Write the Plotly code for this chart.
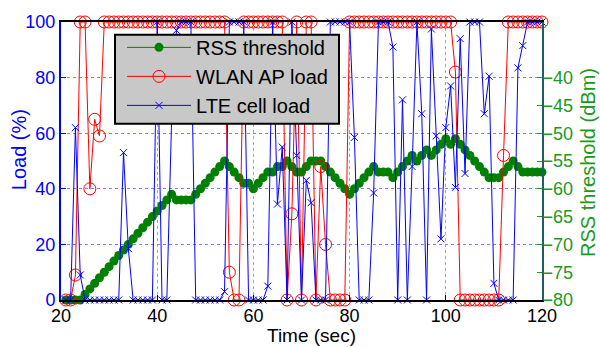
import plotly.graph_objects as go

# Simulation time (sec)
time = list(range(21, 121))

# RSS threshold (dBm)
rss_threshold = [
    -80, -80, -80, -80, -79, -78, -77, -76, -75, -74,
    -73, -72, -71, -70, -69, -68, -67, -66, -65, -64,
    -63, -62, -61, -62, -62, -62, -62, -61, -60, -59,
    -58, -57, -56, -55, -56, -57, -58, -59, -59, -60,
    -59, -58, -57, -57, -56, -56, -55, -56, -57, -57,
    -56, -55, -55, -55, -56, -57, -58, -59, -60, -61,
    -60, -59, -58, -57, -56, -57, -57, -57, -58, -57,
    -56, -55, -54, -55, -54, -53, -54, -53, -52, -51,
    -52, -51, -52, -53, -54, -55, -56, -57, -58, -58,
    -58, -57, -56, -55, -56, -57, -57, -57, -57, -57,
]

# WLAN AP load (%)
wlan_load = (
    [0, 0, 9, 100, 100, 40, 65, 59]
    + [100] * 26
    + [10, 0, 0]
    + [100] * 9
    + [0, 31, 100, 0, 100, 100, 0, 48, 20, 0, 0, 0, 0]
    + [100] * 22
    + [82]
    + [0] * 9
    + [52]
    + [100] * 8
)

# LTE cell load (%)
lte_load = (
    [0, 0, 62, 9]
    + [0] * 8
    + [53, 18.5]
    + [0] * 5
    + [100, 0, 0, 65, 97, 100, 100, 100]
    + [0] * 6
    + [3]
    + [100] * 4
    + [0] * 4
    + [5, 100, 34.5, 55, 0, 100, 52, 0, 43, 35]
    + [0] * 3
    + [100] * 5
    + [58.5, 0, 0, 0, 38.5]
    + [100, 100, 100, 91, 0, 72, 0, 48, 100, 67, 0, 97.5, 59, 22, 62,
       77, 40.5, 94, 45.5, 100, 100, 100, 67, 80.5, 6]
    + [0] * 4
    + [83.5, 91.5]
    + [100] * 4
)

x_ticks = [20, 40, 60, 80, 100, 120]
load_ticks = [0, 20, 40, 60, 80, 100]
rss_ticks = [-80, -75, -70, -65, -60, -55, -50, -45, -40]

GREEN = "#008000"
GREEN_TXT = "#1c9a1c"
BLUE = "#0000ff"
RED = "#ff0000"
FONT = "Liberation Sans, Arial, sans-serif"

W, H = 600, 347
L, R, T, B = 61, 58, 16, 47


def px(xp, yp):
    """Pixel position -> paper coordinates."""
    return (xp - L) / (W - L - R), (H - B - yp) / (H - T - B)


fig = go.Figure()

fig.add_trace(go.Scatter(
    x=time, y=rss_threshold, name="RSS threshold", yaxis="y",
    mode="lines+markers", cliponaxis=False,
    line=dict(color=GREEN, width=1),
    marker=dict(color=GREEN, size=9, symbol="circle"),
))
fig.add_trace(go.Scatter(
    x=time, y=wlan_load, name="WLAN AP load", yaxis="y2",
    mode="lines+markers", cliponaxis=False,
    line=dict(color=RED, width=1),
    marker=dict(color=RED, size=12, symbol="circle-open",
                line=dict(color=RED, width=1)),
))
fig.add_trace(go.Scatter(
    x=time, y=lte_load, name="LTE cell load", yaxis="y2",
    mode="lines+markers", cliponaxis=False,
    line=dict(color=BLUE, width=1),
    marker=dict(color=BLUE, size=7, symbol="x-thin-open",
                line=dict(color=BLUE, width=1)),
))

ann = []
ax_, ay_ = px(19, 147)
ann.append(dict(text="Load (%)", x=ax_, y=ay_, xref="paper", yref="paper",
                textangle=-90, showarrow=False, xanchor="center", yanchor="middle",
                font=dict(size=20, color=BLUE, family=FONT)))
ax_, ay_ = px(588, 160)
ann.append(dict(text="RSS threshold (dBm)", x=ax_, y=ay_, xref="paper", yref="paper",
                textangle=-90, showarrow=False, xanchor="center", yanchor="middle",
                font=dict(size=20, color=GREEN_TXT, family=FONT)))
ax_, ay_ = px(311, 336.4)
ann.append(dict(text="Time (sec)", x=ax_, y=ay_, xref="paper", yref="paper",
                showarrow=False, xanchor="center", yanchor="middle", borderpad=0,
                font=dict(size=19, color="black", family=FONT)))

# legend frame
bx0, by0 = px(115, 29)
bx1, by1 = px(339, 120)
shapes = [dict(type="rect", xref="paper", yref="paper", x0=bx0, y0=by1,
               x1=bx1, y1=by0, fillcolor="#c8c8c8",
               line=dict(color="black", width=2), layer="above")]

lx, ly = px(122, 22)

fig.update_layout(
    width=W, height=H,
    margin=dict(l=L, r=R, t=T, b=B, pad=0),
    paper_bgcolor="white", plot_bgcolor="white",
    font=dict(family=FONT, size=18, color="black"),
    annotations=ann,
    shapes=shapes,
    xaxis=dict(
        range=[20, 120], tickvals=x_ticks, ticks="inside", ticklen=5,
        tickcolor="black", showline=True, linecolor="black", linewidth=1.5,
        mirror=True, showgrid=True, gridcolor="#a8a8a8", griddash="dot",
        gridwidth=1, zeroline=False, tickfont=dict(size=18, color="black"),
        ticklabelstandoff=-1,
    ),
    yaxis=dict(
        range=[-80, -30], tickvals=rss_ticks, side="right", ticks="inside",
        ticklen=5, tickcolor=GREEN_TXT, showline=True, linecolor="#1f5f5f",
        linewidth=2, showgrid=False, zeroline=False,
        tickfont=dict(size=18, color=GREEN_TXT), ticklabelstandoff=-5,
    ),
    yaxis2=dict(
        range=[0, 100], tickvals=load_ticks, overlaying="y", side="left",
        ticks="inside", ticklen=5, tickcolor=BLUE, showline=True,
        linecolor=BLUE, linewidth=2, showgrid=True, gridcolor="#7f7fff",
        griddash="dot", gridwidth=1, zeroline=False,
        tickfont=dict(size=18, color=BLUE),
    ),
    legend=dict(
        x=lx, y=ly, xanchor="left", yanchor="top",
        bgcolor="rgba(0,0,0,0)", borderwidth=0,
        font=dict(size=20, color="black", family=FONT),
        itemwidth=64, tracegroupgap=0,
    ),
    showlegend=True,
)

fig.write_html("out.html")
